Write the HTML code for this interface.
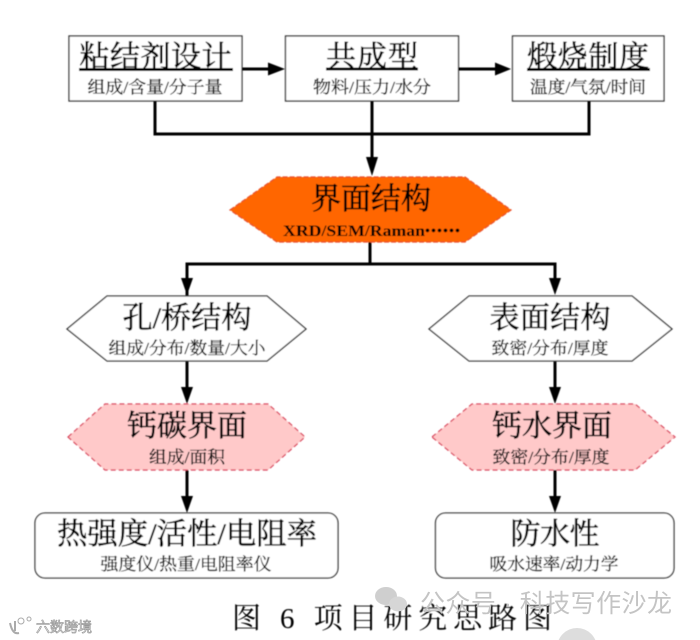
<!DOCTYPE html>
<html lang="zh"><head><meta charset="utf-8"><style>
html,body{margin:0;padding:0;background:#fff;width:700px;height:640px;overflow:hidden}
svg{display:block}
text{font-family:"Liberation Serif","Noto Serif CJK SC",serif;fill:#000;text-anchor:middle}
.t{font-size:30px;stroke:#000;stroke-width:.55px}.s{font-size:17px;stroke:#111;stroke-width:.3px}
.b{fill:#fff;stroke:#333;stroke-width:1.3}
.l{fill:none;stroke:#000;stroke-width:3}
.p{fill:#ffc9c9;stroke:#d9415a;stroke-width:1.2;stroke-dasharray:5 3}
</style></head><body>
<svg width="700" height="640" viewBox="0 0 700 640" xmlns="http://www.w3.org/2000/svg">
<defs><filter id="f" x="-5%" y="-5%" width="110%" height="110%"><feGaussianBlur stdDeviation="0.4"/></filter></defs>
<g filter="url(#f)">
<rect class="b" x="69" y="36" width="173" height="65"/>
<rect class="b" x="285.500" y="36" width="173" height="65"/>
<rect class="b" x="512.500" y="36" width="151.500" height="65"/>
<path class="l" d="M242 69H270M458 69H498M155 101V134H589V101M372 101V160M370 242V264M187 296V264H555V280M187 361V390M555 361V390M187 470V498M555 470V498"/>
<path d="M268 62.500L285 69L268 75.500ZM495 62.500L511 69L495 75.500ZM366 157H378L372 176ZM181 278H193L187 295ZM549 278H561L555 295ZM181 387H193L187 404ZM549 387H561L555 404ZM181 496H193L187 513ZM549 496H561L555 513Z"/>
<polygon points="230,210 277,177 465,177 511,210 465,242 277,242" fill="#ff6600" stroke="#e8502a" stroke-width="1.200" stroke-dasharray="5 2"/>
<polygon class="b" points="67,329 107,296 267,296 306,329 267,361 107,361"/>
<polygon class="b" points="429,329 469,296 632,296 672,329 632,361 469,361"/>
<polygon class="p" points="68,437 105,404 268,404 305,437 268,470 105,470"/>
<polygon class="p" points="432,437 472,404 635,404 675,437 635,470 472,470"/>
<rect class="b" x="35" y="513" width="303" height="65" rx="10"/>
<rect class="b" x="435.500" y="513" width="238.500" height="65" rx="10"/>
<text class="t" x="155.500" y="67" textLength="152">粘结剂设计</text>
<path class="l" d="M79 69.500H233" stroke-width="2"/>
<text class="s" x="155" y="93" textLength="135" lengthAdjust="spacingAndGlyphs">组成/含量/分子量</text>
<text class="t" x="372" y="67" textLength="92">共成型</text>
<path class="l" d="M326 69H418" stroke-width="2"/>
<text class="s" x="372" y="93" textLength="118" lengthAdjust="spacingAndGlyphs">物料/压力/水分</text>
<text class="t" x="588" y="67" textLength="122">煅烧制度</text>
<path class="l" d="M527 69.500H650" stroke-width="2"/>
<text class="s" x="588" y="93" textLength="116" lengthAdjust="spacingAndGlyphs">温度/气氛/时间</text>
<text class="t" x="371" y="209" textLength="120">界面结构</text>
<text x="354" y="236" font-size="15.500" font-weight="bold" textLength="142" lengthAdjust="spacingAndGlyphs">XRD/SEM/Raman</text>
<text x="427.500 433.500 439.500 445.500 451.500 457.500" y="236" font-size="15" font-weight="bold" style="font-family:'Noto Sans CJK SC',sans-serif">······</text>
<text class="t" x="187" y="328" textLength="129" lengthAdjust="spacingAndGlyphs">孔/桥结构</text>
<text class="s" x="187" y="354" textLength="157" lengthAdjust="spacingAndGlyphs">组成/分布/数量/大小</text>
<text class="t" x="550" y="328" textLength="121">表面结构</text>
<text class="s" x="550" y="354" textLength="117" lengthAdjust="spacingAndGlyphs">致密/分布/厚度</text>
<text class="t" x="187" y="436" textLength="120">钙碳界面</text>
<text class="s" x="187" y="463" textLength="76" lengthAdjust="spacingAndGlyphs">组成/面积</text>
<text class="t" x="552" y="436" textLength="120">钙水界面</text>
<text class="s" x="551" y="463" textLength="117" lengthAdjust="spacingAndGlyphs">致密/分布/厚度</text>
<text class="t" x="187" y="544" textLength="260" lengthAdjust="spacingAndGlyphs">热强度/活性/电阻率</text>
<text class="s" x="186" y="570" textLength="171" lengthAdjust="spacingAndGlyphs">强度仪/热重/电阻率仪</text>
<text class="t" x="555" y="544" textLength="89">防水性</text>
<text class="s" x="554" y="570" textLength="129" lengthAdjust="spacingAndGlyphs">吸水速率/动力学</text>
<text x="392" y="628" font-size="29" textLength="320">图 6 项目研究思路图</text>
</g>
<ellipse cx="386" cy="596" rx="11" ry="9" fill="#cfcfcf"/>
<ellipse cx="398" cy="604" rx="9" ry="7.500" fill="#d6d6d6"/>
<text x="546" y="612" font-size="25" textLength="252" style="font-family:'Liberation Sans','Noto Sans CJK SC',sans-serif;fill:#c4c4c4">公众号 · 科技写作沙龙</text>
<circle cx="577" cy="648" r="20" fill="#ddd"/>
<text x="64" y="632" font-size="14" textLength="56" style="font-family:'Liberation Sans','Noto Sans CJK SC',sans-serif;fill:#fff;stroke:#999;stroke-width:.7">六数跨境</text>
<path d="M10 623c2 9 5 11 9 10M15 621v10" fill="none" stroke="#aaa" stroke-width="2"/>
<circle cx="21" cy="621" r="3" fill="#fff" stroke="#aaa"/><circle cx="29" cy="619" r="2" fill="#fff" stroke="#aaa"/>
</svg>
</body></html>
